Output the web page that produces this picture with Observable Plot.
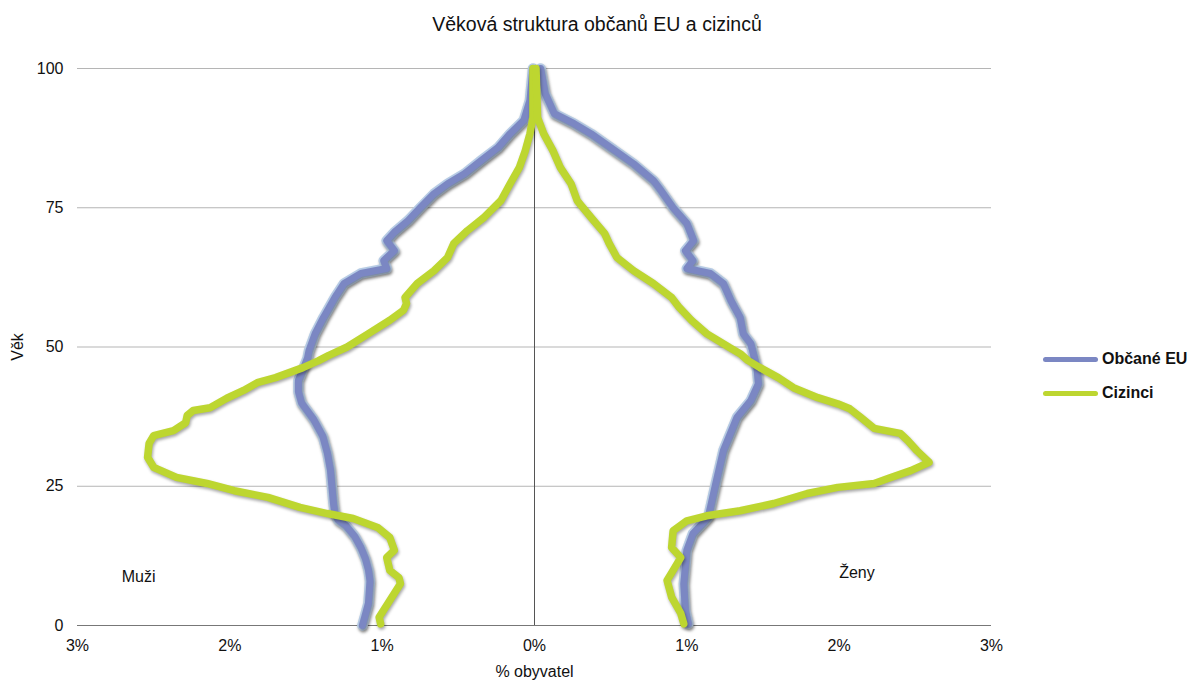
<!DOCTYPE html>
<html>
<head>
<meta charset="utf-8">
<script src="https://cdn.jsdelivr.net/npm/d3@7"></script>
<script src="https://cdn.jsdelivr.net/npm/@observablehq/plot@0.6"></script>
<style>
  body { margin: 0; background: #fff; font-family: "Liberation Sans", Arial, sans-serif; }
  #wrap { position: relative; width: 1194px; height: 680px; overflow: hidden; }
  #title { position: absolute; top: 13px; left: 0; width: 1194px; text-align: center; font-size: 19.5px; color: #111; }
  #chart { position: absolute; top: 50px; left: 0; }
  .leg { position: absolute; left: 1043px; display: flex; align-items: center; font-size: 16px; font-weight: bold; color: #111; line-height: 18px; }
  .leg span.sw { display: inline-block; width: 55px; height: 5px; border-radius: 3px; margin-right: 4px; }
  svg g[aria-label="line"] { filter: drop-shadow(1.5px 2.5px 1.5px rgba(0,0,0,0.35)); }
</style>
</head>
<body>
<div id="wrap">
  <div id="title">Věková struktura občanů EU a cizinců</div>
  <div id="chart"></div>
  <div class="leg" style="top:350px"><span class="sw" style="background:#7b87c3"></span>Občané EU</div>
  <div class="leg" style="top:384px"><span class="sw" style="background:#bdd630"></span>Cizinci</div>
</div>
<script>
// Series names
const seriesNames = ["Občané EU", "Cizinci"];

// Občané EU – muži (age, % of population; negative = men side)
const euMenAge = [0,2,4,6,8,10,12,14,16,18,19,20,22,25,28,31,34,37,40,42,44,46,48,49.4,52.4,55.3,58.9,61.4,63.2,64.1,65.5,67.3,69.1,70.6,72.7,75,77.5,79.3,81.1,83.5,85.8,88.3,90.7,94.3,100];
const euMenPct = [-1.13,-1.11,-1.09,-1.085,-1.08,-1.09,-1.11,-1.14,-1.18,-1.24,-1.29,-1.31,-1.32,-1.33,-1.34,-1.36,-1.39,-1.45,-1.53,-1.55,-1.55,-1.52,-1.49,-1.48,-1.44,-1.385,-1.31,-1.25,-1.14,-0.97,-0.99,-0.92,-0.97,-0.92,-0.83,-0.75,-0.66,-0.57,-0.46,-0.35,-0.24,-0.16,-0.07,-0.03,-0.01];

// Občané EU – ženy
const euWomenAge = [0.3,2.7,7.5,13.5,16.5,19.4,25.5,31.4,37.4,40.4,43.4,46.3,50.6,52.4,55.3,58.3,61.4,63.2,64.1,65.5,67.3,69.1,72.2,75,78.1,79.9,82.9,85.8,88.3,90.1,91.9,95.5,100];
const euWomenPct = [1.01,0.99,0.98,1.00,1.04,1.14,1.19,1.24,1.33,1.42,1.47,1.46,1.42,1.37,1.35,1.29,1.24,1.155,1.00,1.04,0.99,1.045,1.00,0.91,0.83,0.78,0.65,0.50,0.37,0.26,0.13,0.07,0.04];

// Cizinci – muži
const fgMenAge = [0.3,1.5,4.5,7.5,8.6,9.9,12.2,13.5,15.8,17.6,19.2,20.1,21.2,23,24.2,25.5,26.6,28.4,30.2,32.7,34.1,35,36.4,37.7,38.6,39.1,40.8,42.2,43.6,44.5,46.3,47.5,48.5,50,52.4,54.8,56.6,57.8,58.9,61.4,63.7,66.1,68.6,70.9,73.3,76.3,79.3,82.2,85.3,88.3,91.2,100];
const fgMenPct = [-1.01,-1.02,-0.95,-0.88,-0.89,-0.95,-0.97,-0.92,-0.95,-1.03,-1.19,-1.36,-1.54,-1.75,-1.97,-2.15,-2.35,-2.50,-2.54,-2.53,-2.50,-2.37,-2.29,-2.28,-2.24,-2.13,-2.02,-1.91,-1.82,-1.70,-1.52,-1.42,-1.35,-1.23,-1.09,-0.95,-0.86,-0.84,-0.85,-0.77,-0.66,-0.57,-0.53,-0.44,-0.33,-0.22,-0.16,-0.10,-0.06,-0.03,-0.01,-0.01];

// Cizinci – ženy
const fgWomenAge = [0.3,2.2,5.1,8.1,9.9,12.2,14,17,18.8,19.7,20.6,21.9,23.7,24.8,25.5,26.4,27.8,29.3,31.4,33.2,34.5,35.4,37.4,38.9,39.8,40.9,42.7,44.5,46.3,47.6,48.8,49.9,52.4,54.8,57.1,58.9,61.4,63.7,66.1,68.6,70.4,73.3,76.3,79.3,82.2,85.3,88.3,91.2,100];
const fgWomenPct = [0.98,0.96,0.90,0.87,0.91,0.96,0.90,0.91,1.00,1.13,1.35,1.57,1.79,1.99,2.23,2.32,2.47,2.59,2.51,2.45,2.40,2.23,2.14,2.07,1.99,1.86,1.70,1.60,1.48,1.40,1.35,1.28,1.13,1.03,0.95,0.90,0.78,0.65,0.54,0.49,0.46,0.37,0.28,0.24,0.17,0.12,0.06,0.02,0.01];

// Axis ticks
const xTicks = [-3,-2,-1,0,1,2,3];
const yTicks = [0,25,50,75,100];
const sexLabels = ["Muži", "Ženy"];

function rows(series, sex, ages, pcts) {
  return ages.map((a, i) => ({series, sex, age: a, pct: pcts[i]}));
}
const euRows = [...rows(seriesNames[0], "M", euMenAge, euMenPct), ...rows(seriesNames[0], "F", euWomenAge, euWomenPct)];
const fgRows = [...rows(seriesNames[1], "M", fgMenAge, fgMenPct), ...rows(seriesNames[1], "F", fgWomenAge, fgWomenPct)];

const chart = Plot.plot({
  width: 1194,
  height: 630,
  marginLeft: 77,
  marginRight: 203,
  marginTop: 18,
  marginBottom: 55,
  style: {fontFamily: "Liberation Sans, Arial, sans-serif", fontSize: "16px", color: "#111", background: "transparent"},
  x: {domain: [-3, 3], ticks: xTicks, tickFormat: d => Math.abs(d) + "%", tickSize: 0, tickPadding: 14, label: "% obyvatel", labelAnchor: "center", labelOffset: 51, labelArrow: false},
  y: {domain: [0, 100], ticks: yTicks, tickSize: 0, tickPadding: 14, label: "Věk", labelAnchor: "center", labelOffset: 66, labelArrow: false},
  marks: [
    Plot.ruleY(yTicks.filter(d => d > 0), {stroke: "#b5b5b5", strokeWidth: 1}),
    Plot.ruleY([0], {stroke: "#777", strokeWidth: 1.2}),
    Plot.ruleX([0], {y1: 0, y2: 100, stroke: "#555", strokeWidth: 1}),
    Plot.line(euRows, {x: "pct", y: "age", z: "sex", stroke: "#b7cce6", strokeWidth: 10.5, strokeLinejoin: "round", strokeLinecap: "round"}),
    Plot.line(euRows, {x: "pct", y: "age", z: "sex", stroke: "#7b87c3", strokeWidth: 7, strokeLinejoin: "round", strokeLinecap: "round"}),
    Plot.line(fgRows, {x: "pct", y: "age", z: "sex", stroke: "#bdd630", strokeWidth: 7.5, strokeLinejoin: "round", strokeLinecap: "round"}),
    Plot.text([sexLabels[0]], {x: -2.71, y: 8.8, text: d => d, textAnchor: "start", fontSize: 16, fill: "#111"}),
    Plot.text([sexLabels[1]], {x: 2.0, y: 9.5, text: d => d, textAnchor: "start", fontSize: 16, fill: "#111"})
  ]
});
document.getElementById("chart").appendChild(chart);
</script>
</body>
</html>
